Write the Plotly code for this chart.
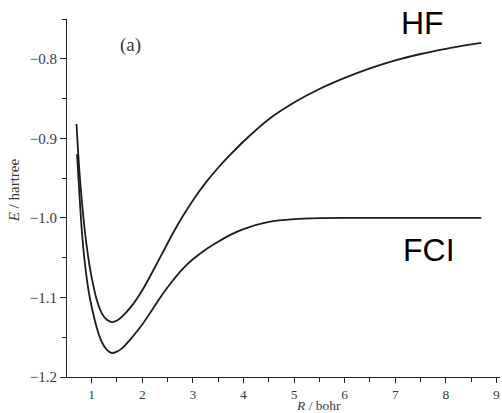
import plotly.graph_objects as go

# Hartree-Fock curve (R in bohr, E in hartree)
hf_R = [0.70, 0.75, 0.80, 0.85, 0.90, 0.95, 1.00, 1.10, 1.20, 1.30, 1.40, 1.50, 1.60,
        1.80, 2.00, 2.20, 2.40, 2.60, 2.80, 3.00, 3.25, 3.50, 3.75, 4.00, 4.50, 5.00,
        5.50, 6.00, 6.50, 7.00, 7.50, 8.00, 8.50, 8.70]
hf_E = [-0.882, -0.935, -0.975, -1.008, -1.035, -1.057, -1.075, -1.103, -1.120, -1.128,
        -1.131, -1.129, -1.124, -1.110, -1.091, -1.068, -1.044, -1.020, -0.998, -0.978,
        -0.956, -0.937, -0.920, -0.904, -0.876, -0.855, -0.838, -0.824, -0.812, -0.802,
        -0.794, -0.7875, -0.782, -0.780]

# Full CI curve
fci_R = [0.71, 0.75, 0.80, 0.85, 0.90, 0.95, 1.00, 1.10, 1.20, 1.30, 1.40, 1.50, 1.60,
         1.80, 2.00, 2.20, 2.40, 2.60, 2.80, 3.00, 3.25, 3.50, 3.75, 4.00, 4.50, 5.00,
         5.50, 6.00, 7.00, 8.00, 8.70]
fci_E = [-0.920, -0.962, -1.012, -1.048, -1.075, -1.096, -1.112, -1.138, -1.156, -1.166,
         -1.170, -1.168, -1.164, -1.150, -1.134, -1.115, -1.096, -1.079, -1.064, -1.052,
         -1.040, -1.030, -1.021, -1.014, -1.005, -1.0015, -1.0003, -1.000, -1.000, -1.000,
         -1.000]

x_ticks = [1, 2, 3, 4, 5, 6, 7, 8, 9]
y_ticks = [-1.2, -1.1, -1.0, -0.9, -0.8]

line_style = dict(color="#1c1c1c", width=1.8, shape="spline", smoothing=0.8)

fig = go.Figure()
fig.add_trace(go.Scatter(x=hf_R, y=hf_E, mode="lines", line=line_style, name="HF",
                         showlegend=False))
fig.add_trace(go.Scatter(x=fci_R, y=fci_E, mode="lines", line=line_style, name="FCI",
                         showlegend=False))

serif = "Liberation Serif, DejaVu Serif, serif"
label_color = "#3a3a3a"

fig.update_layout(
    width=502, height=413,
    margin=dict(l=67, r=2, t=19, b=36),
    paper_bgcolor="white", plot_bgcolor="white",
    showlegend=False,
    font=dict(family=serif, size=15, color=label_color),
)
fig.update_xaxes(
    range=[0.512, 9.07], tickvals=x_ticks, ticktext=[str(v) for v in x_ticks],
    showline=True, linecolor="#222", linewidth=1,
    ticks="outside", ticklen=5, tickcolor="#222", tickwidth=1,
    minor=dict(dtick=0.5, tick0=0.5, ticks="outside", ticklen=4, tickcolor="#222"),
    showgrid=False, zeroline=False, mirror=False,
    tickfont=dict(family=serif, size=13.5, color=label_color),
)
fig.update_yaxes(
    range=[-1.2, -0.75], tickvals=y_ticks, tickformat=".1f",
    showline=True, linecolor="#222", linewidth=1,
    ticks="outside", ticklen=6, tickcolor="#222", tickwidth=1,
    minor=dict(dtick=0.05, tick0=-1.2, ticks="outside", ticklen=4, tickcolor="#222"),
    showgrid=False, zeroline=False, mirror=False,
    tickfont=dict(family=serif, size=15, color=label_color),
)

fig.add_annotation(text="<i>R</i> / bohr", xref="paper", yref="paper", x=0.58, y=-0.079,
                   showarrow=False, xanchor="center", yanchor="middle",
                   font=dict(family=serif, size=13.5, color=label_color))
fig.add_annotation(text="<i>E</i> / hartree", xref="paper", yref="paper", x=-0.122, y=0.522,
                   showarrow=False, textangle=-90, xanchor="center", yanchor="middle",
                   font=dict(family=serif, size=15, color=label_color))
fig.add_annotation(text="(a)", xref="paper", yref="paper", x=0.1455, y=0.927,
                   showarrow=False, xanchor="center", yanchor="middle",
                   font=dict(family=serif, size=19, color=label_color))
fig.add_annotation(text="HF", xref="paper", yref="paper", x=0.822, y=0.988,
                   showarrow=False, xanchor="center", yanchor="middle",
                   font=dict(family="Liberation Sans, Arial, sans-serif", size=32, color="black"))
fig.add_annotation(text="FCI", xref="paper", yref="paper", x=0.836, y=0.355,
                   showarrow=False, xanchor="center", yanchor="middle",
                   font=dict(family="Liberation Sans, Arial, sans-serif", size=32, color="black"))

fig.write_html("out.html", config={"displayModeBar": False},
               post_script="document.body.style.margin='0px';")
